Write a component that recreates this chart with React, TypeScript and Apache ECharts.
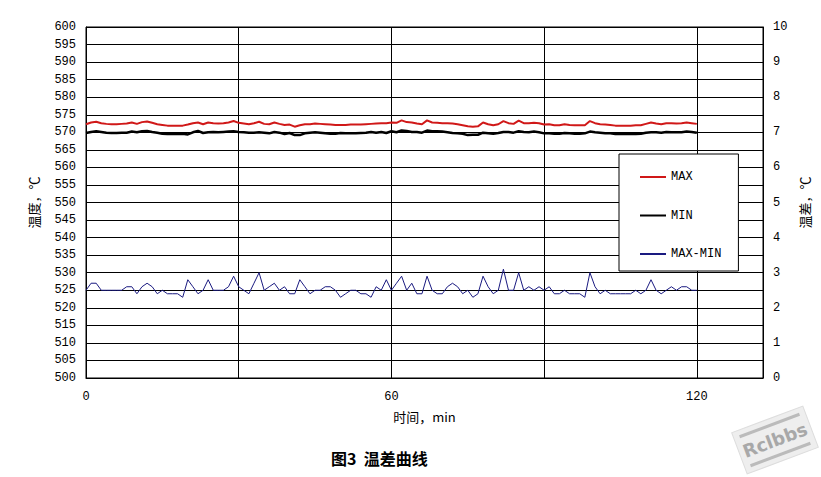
import React, { useEffect, useRef } from "react";
import * as echarts from "echarts";

// minutes 0..120, one reading per minute
const minutes: number[] = Array.from({ length: 121 }, (_, i) => i);

const maxTemp: number[] = [
  572.3, 572.8, 573.0, 572.6, 572.4, 572.3, 572.3, 572.4, 572.5, 572.8,
  572.4, 572.9, 573.1, 572.7, 572.3, 572.1, 571.9, 571.9, 571.9, 571.9,
  572.2, 572.6, 572.8, 572.3, 572.8, 572.6, 572.5, 572.6, 572.8, 573.2,
  572.7, 572.5, 572.3, 572.6, 573.0, 572.4, 572.3, 572.8, 572.4, 572.1,
  572.2, 571.6, 572.0, 572.3, 572.3, 572.5, 572.4, 572.3, 572.2, 572.1,
  572.1, 572.1, 572.2, 572.2, 572.2, 572.3, 572.4, 572.5, 572.6, 572.6,
  572.8, 572.7, 573.4, 572.9, 572.8, 572.5, 572.3, 573.4, 572.8, 572.7,
  572.6, 572.6, 572.5, 572.3, 572.0, 571.7, 571.6, 571.7, 572.8, 572.3,
  572.0, 572.3, 573.2, 572.6, 572.4, 573.3, 572.6, 572.6, 572.7, 572.6,
  572.2, 572.3, 572.0, 572.0, 572.3, 572.1, 572.0, 572.0, 572.0, 573.2,
  572.6, 572.3, 572.2, 572.1, 571.9, 571.9, 571.9, 571.9, 572.0, 572.0,
  572.4, 572.8, 572.5, 572.3, 572.6, 572.6, 572.5, 572.6, 572.8, 572.6,
  572.4,
];

const minTemp: number[] = [
  569.8, 570.1, 570.3, 570.1, 569.9, 569.8, 569.8, 569.9, 569.9, 570.2,
  570.0, 570.3, 570.4, 570.1, 569.9, 569.6, 569.5, 569.5, 569.5, 569.6,
  569.4, 570.0, 570.4, 569.8, 570.0, 570.1, 570.0, 570.1, 570.2, 570.3,
  570.1, 570.0, 569.9, 569.9, 570.0, 569.9, 569.7, 570.1, 569.9, 569.5,
  569.8, 569.2, 569.2, 569.7, 569.9, 570.0, 569.9, 569.7, 569.6, 569.6,
  569.8, 569.7, 569.7, 569.7, 569.8, 569.9, 570.1, 569.9, 570.1, 569.8,
  570.3, 570.0, 570.5, 570.4, 570.1, 570.1, 569.9, 570.5, 570.3, 570.3,
  570.2, 570.0, 569.8, 569.7, 569.6, 569.2, 569.3, 569.3, 569.9, 569.7,
  569.6, 569.8, 570.1, 570.1, 569.9, 570.3, 570.1, 570.0, 570.2, 570.0,
  569.7, 569.7, 569.6, 569.6, 569.8, 569.7, 569.6, 569.6, 569.7, 570.2,
  570.0, 569.9, 569.7, 569.7, 569.5, 569.5, 569.5, 569.5, 569.5, 569.6,
  569.9, 570.0, 570.0, 569.9, 570.1, 570.0, 570.0, 570.0, 570.2, 570.1,
  569.9,
];

const diffTemp: number[] = [
  2.5, 2.7, 2.7, 2.5, 2.5, 2.5, 2.5, 2.5, 2.6, 2.6,
  2.4, 2.6, 2.7, 2.6, 2.4, 2.5, 2.4, 2.4, 2.4, 2.3,
  2.8, 2.6, 2.4, 2.5, 2.8, 2.5, 2.5, 2.5, 2.6, 2.9,
  2.6, 2.5, 2.4, 2.7, 3.0, 2.5, 2.6, 2.7, 2.5, 2.6,
  2.4, 2.4, 2.8, 2.6, 2.4, 2.5, 2.5, 2.6, 2.6, 2.5,
  2.3, 2.4, 2.5, 2.5, 2.4, 2.4, 2.3, 2.6, 2.5, 2.8,
  2.5, 2.7, 2.9, 2.5, 2.7, 2.4, 2.4, 2.9, 2.5, 2.4,
  2.4, 2.6, 2.7, 2.6, 2.4, 2.5, 2.3, 2.4, 2.9, 2.6,
  2.4, 2.5, 3.1, 2.5, 2.5, 3.0, 2.5, 2.6, 2.5, 2.6,
  2.5, 2.6, 2.4, 2.4, 2.5, 2.4, 2.4, 2.4, 2.3, 3.0,
  2.6, 2.4, 2.5, 2.4, 2.4, 2.4, 2.4, 2.4, 2.5, 2.4,
  2.5, 2.8, 2.5, 2.4, 2.5, 2.6, 2.5, 2.6, 2.6, 2.5,
  2.5,
];

const xLabelsShown: number[] = [0, 60, 120];

const FONT = '"Liberation Mono", "Noto Sans CJK SC", monospace';
const CJK = '"Noto Sans CJK SC", "Liberation Mono", sans-serif';

export default function App() {
  const ref = useRef<HTMLDivElement>(null);
  useEffect(() => {
    if (!ref.current) return;
    const chart = echarts.init(ref.current, undefined, { renderer: "svg" });
    const pair = (arr: number[]) => minutes.map((m, i) => [m, arr[i]]);
    chart.setOption({
      animation: false,
      backgroundColor: "#ffffff",
      title: {
        text: "图3  温差曲线",
        left: 326,
        top: 445,
        textStyle: { fontFamily: CJK, fontSize: 16, fontWeight: "bold", color: "#000" },
      },
      grid: {
        left: 86,
        right: 58,
        top: 27,
        bottom: 99,
        show: true,
        borderColor: "#000",
        borderWidth: 1,
        containLabel: false,
      },
      legend: {
        orient: "vertical",
        left: 619,
        top: 154,
        backgroundColor: "#fff",
        borderColor: "#000",
        borderWidth: 1,
        padding: [17, 17, 11, 20],
        itemGap: 26.5,
        itemWidth: 26,
        itemHeight: 14,
        itemStyle: { opacity: 0 },
        textStyle: { fontFamily: FONT, fontSize: 12, color: "#000" },
        data: ["MAX", "MIN", "MAX-MIN"],
      },
      xAxis: {
        type: "value",
        min: 0,
        max: 133,
        interval: 30,
        name: "时间，min",
        nameLocation: "middle",
        nameGap: 32,
        nameTextStyle: { fontFamily: CJK, fontSize: 13, color: "#000" },
        axisLine: { show: true, lineStyle: { color: "#000" } },
        axisTick: { show: false },
        axisLabel: {
          margin: 13,
          showMaxLabel: false,
          fontFamily: FONT,
          fontSize: 12,
          color: "#000",
          formatter: (v: number) => (xLabelsShown.includes(v) ? String(v) : ""),
        },
        splitLine: { show: true, lineStyle: { color: "#000", width: 1 } },
      },
      yAxis: [
        {
          type: "value",
          min: 500,
          max: 600,
          interval: 5,
          name: "温度，℃",
          nameLocation: "middle",
          nameGap: 46,
          nameRotate: 90,
          nameTextStyle: { fontFamily: CJK, fontSize: 13, color: "#000" },
          axisLine: { show: true, lineStyle: { color: "#000" } },
          axisTick: { show: false },
          axisLabel: { margin: 10, fontFamily: FONT, fontSize: 12, color: "#000" },
          splitLine: { show: true, lineStyle: { color: "#000", width: 1 } },
        },
        {
          type: "value",
          min: 0,
          max: 10,
          interval: 1,
          position: "right",
          name: "温差，℃",
          nameLocation: "middle",
          nameGap: 32,
          nameRotate: 90,
          nameTextStyle: { fontFamily: CJK, fontSize: 13, color: "#000" },
          axisLine: { show: true, lineStyle: { color: "#000" } },
          axisTick: { show: false },
          axisLabel: { margin: 10, fontFamily: FONT, fontSize: 12, color: "#000" },
          splitLine: { show: false },
        },
      ],
      series: [
        {
          name: "MAX",
          type: "line",
          yAxisIndex: 0,
          symbol: "none",
          data: pair(maxTemp),
          lineStyle: { color: "#d01818", width: 2 },
          itemStyle: { color: "#d01818" },
        },
        {
          name: "MIN",
          type: "line",
          yAxisIndex: 0,
          symbol: "none",
          data: pair(minTemp),
          lineStyle: { color: "#000000", width: 2.5 },
          itemStyle: { color: "#000000" },
        },
        {
          name: "MAX-MIN",
          type: "line",
          yAxisIndex: 1,
          symbol: "none",
          data: pair(diffTemp),
          lineStyle: { color: "#1a1a80", width: 1 },
          itemStyle: { color: "#1a1a80" },
        },
      ],
      graphic: [
        {
          type: "group",
          x: 775,
          y: 440,
          rotation: 0.36,
          children: [
            {
              type: "rect",
              shape: { x: -38, y: -22, width: 76, height: 44 },
              style: { fill: "#eeeeee", stroke: "#dddddd" },
            },
            {
              type: "rect",
              shape: { x: -32, y: -17, width: 64, height: 3 },
              style: { fill: "#bbbbbb" },
            },
            {
              type: "rect",
              shape: { x: -32, y: 14, width: 64, height: 3 },
              style: { fill: "#bbbbbb" },
            },
            {
              type: "text",
              style: {
                text: "Rclbbs",
                x: 0,
                y: 0,
                align: "center",
                verticalAlign: "middle",
                fontFamily: "DejaVu Sans",
                fontWeight: "bold",
                fontSize: 18,
                fill: "#a8a8a8",
              },
            },
          ],
        },
      ],
    });
    return () => chart.dispose();
  }, []);
  return (
    <div
      ref={ref}
      style={{ position: "fixed", left: 0, top: 0, width: 821, height: 477, background: "#fff" }}
    />
  );
}
